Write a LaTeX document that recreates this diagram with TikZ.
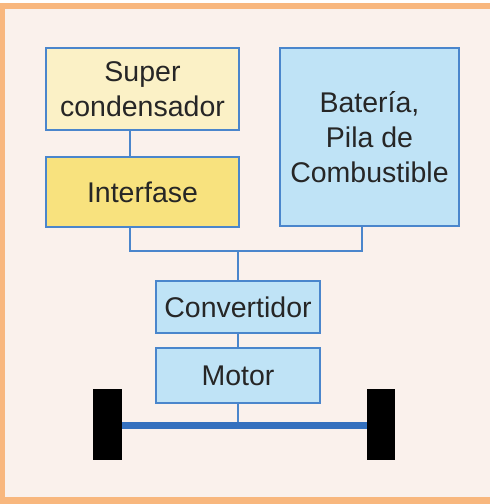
\documentclass[tikz,border=0pt]{standalone}
\usepackage{fontspec}
\setmainfont{Liberation Sans}
\definecolor{bgpeach}{HTML}{FAF1EC}
\definecolor{frameorange}{HTML}{F8B77E}
\definecolor{edgeblue}{HTML}{4A86CC}
\definecolor{axleblue}{HTML}{3470BE}
\definecolor{paleyellow}{HTML}{FBF1C6}
\definecolor{gold}{HTML}{F8E27E}
\definecolor{paleblue}{HTML}{BFE3F6}
\tikzset{
  block/.style={draw=edgeblue, line width=1.6pt, inner sep=0pt, align=center,
    font=\fontsize{28.5}{35}\selectfont, text=black!85},
  wire/.style={draw=edgeblue, line width=1.6pt},
  wheel/.style={fill=black, draw=none}
}
\begin{document}
\begin{tikzpicture}[x=1pt, y=-1pt]
  % page and frame
  \useasboundingbox (0,0) rectangle (490,504);
  \fill[white] (0,0) rectangle (490,504);
  \fill[bgpeach] (0,3) rectangle (490,504);
  \fill[frameorange] (0,3) rectangle (490,9);
  \fill[frameorange] (0,3) rectangle (5,504);
  \fill[frameorange] (0,497) rectangle (490,504);
  % blocks
  \node[block, fill=paleyellow, minimum width=193pt, minimum height=82pt]
    (sc) at (142.5,89) {Super\\condensador};
  \node[block, fill=gold, minimum width=193pt, minimum height=70pt]
    (inter) at (142.5,192) {Interfase};
  \node[block, fill=paleblue, minimum width=179pt, minimum height=178pt]
    (bat) at (369.5,137) {Batería,\\Pila de\\Combustible};
  \node[block, fill=paleblue, minimum width=164pt, minimum height=52pt]
    (conv) at (238,307) {Convertidor};
  \node[block, fill=paleblue, minimum width=164pt, minimum height=55pt]
    (mot) at (238,375.5) {Motor};
  % wheels
  \node[wheel, minimum width=29pt, minimum height=71pt, inner sep=0pt]
    (wl) at (107.5,424.5) {};
  \node[wheel, minimum width=28pt, minimum height=71pt, inner sep=0pt]
    (wr) at (381,424.5) {};
  % bus points
  \coordinate (busl) at (130,251);
  \coordinate (busr) at (362,251);
  \coordinate (busc) at (238,251);
  \coordinate (axc) at (238,425);
  % connectors
  \draw[wire] (sc.south -| busl) -- (inter.north -| busl);
  \draw[wire] (inter.south -| busl) -- (busl) -- (busr) -- (bat.south -| busr);
  \draw[wire] (busc) -- (conv.north);
  \draw[wire] (conv.south) -- (mot.north);
  \draw[wire] (mot.south) -- (axc);
  % axle
  \draw[draw=axleblue, line width=7pt] (wl.east |- axc) -- (wr.west |- axc);
\end{tikzpicture}
\end{document}
